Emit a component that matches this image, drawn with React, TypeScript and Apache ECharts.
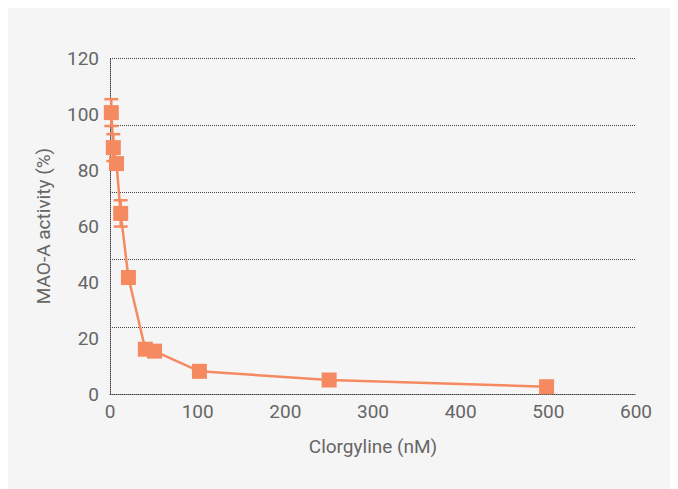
import React, { useEffect, useRef } from "react";
import * as echarts from "echarts";

const concentrations = [1.5, 3.8, 7.4, 12.2, 21, 40.3, 50.8, 102, 250, 498];
const activity = [100.5, 88, 82.3, 64.5, 41.6, 16, 15.3, 8.1, 5, 2.6];
const errors = [4.8, 4.8, 0, 4.7, 0, 0, 0, 0, 0, 0];
const xTicks = [0, 100, 200, 300, 400, 500, 600];
const yTicks = [0, 20, 40, 60, 80, 100, 120];

const COLOR = "#F58A61";
const FONT = "Roboto";

export default function App() {
  const ref = useRef<HTMLDivElement>(null);
  useEffect(() => {
    if (!ref.current) return;
    const chart = echarts.init(ref.current, undefined, { renderer: "svg" });
    const points = concentrations.map((x, i) => [x, activity[i]]);
    const errData = concentrations
      .map((x, i) => [x, activity[i] - errors[i], activity[i] + errors[i]])
      .filter((_, i) => errors[i] > 0);
    chart.setOption({
      animation: false,
      backgroundColor: "#f5f5f5",
      grid: { left: 102, right: 42, top: 50, bottom: 95 },
      xAxis: {
        type: "value",
        min: xTicks[0],
        max: xTicks[xTicks.length - 1],
        interval: 100,
        name: "Clorgyline (nM)",
        nameLocation: "middle",
        nameGap: 43,
        nameTextStyle: { color: "#666", fontSize: 19, fontFamily: FONT },
        axisLine: { show: true, lineStyle: { color: "#444", type: "dotted", width: 1 } },
        axisTick: { show: false },
        axisLabel: { color: "#666", fontSize: 19, fontFamily: FONT, margin: 8 },
        splitLine: { show: false },
      },
      yAxis: [
        {
          type: "value",
          min: yTicks[0],
          max: yTicks[yTicks.length - 1],
          interval: 20,
          name: "MAO-A activity (%)",
          nameLocation: "middle",
          nameGap: 57,
          nameTextStyle: { color: "#666", fontSize: 19, fontFamily: FONT },
          axisLine: { show: true, lineStyle: { color: "#444", type: "dotted", width: 1 } },
          axisTick: { show: false },
          axisLabel: { color: "#666", fontSize: 19, fontFamily: FONT, margin: 11 },
          splitLine: { show: false },
        },
        {
          type: "value",
          position: "left",
          min: 0,
          max: 120,
          interval: 24,
          axisLine: { show: false },
          axisTick: { show: false },
          axisLabel: { show: false },
          splitLine: { show: true, lineStyle: { color: "#444", type: "dotted", width: 1 } },
        },
      ],
      series: [
        {
          type: "custom",
          yAxisIndex: 0,
          z: 1,
          data: errData,
          renderItem: (params: any, api: any) => {
            const x = api.value(0);
            const lo = api.coord([x, api.value(1)]);
            const hi = api.coord([x, api.value(2)]);
            const hw = 7;
            const style = { stroke: COLOR, lineWidth: 2.5 };
            return {
              type: "group",
              children: [
                { type: "line", shape: { x1: lo[0], y1: lo[1], x2: hi[0], y2: hi[1] }, style },
                { type: "line", shape: { x1: lo[0] - hw, y1: lo[1], x2: lo[0] + hw, y2: lo[1] }, style },
                { type: "line", shape: { x1: hi[0] - hw, y1: hi[1], x2: hi[0] + hw, y2: hi[1] }, style },
              ],
            };
          },
        },
        {
          type: "line",
          yAxisIndex: 0,
          z: 2,
          data: points,
          symbol: "rect",
          symbolSize: 15,
          itemStyle: { color: COLOR },
          lineStyle: { color: COLOR, width: 2.5 },
        },
      ],
    });
    return () => chart.dispose();
  }, []);
  return <div ref={ref} style={{ width: 670, height: 481 }} />;
}
